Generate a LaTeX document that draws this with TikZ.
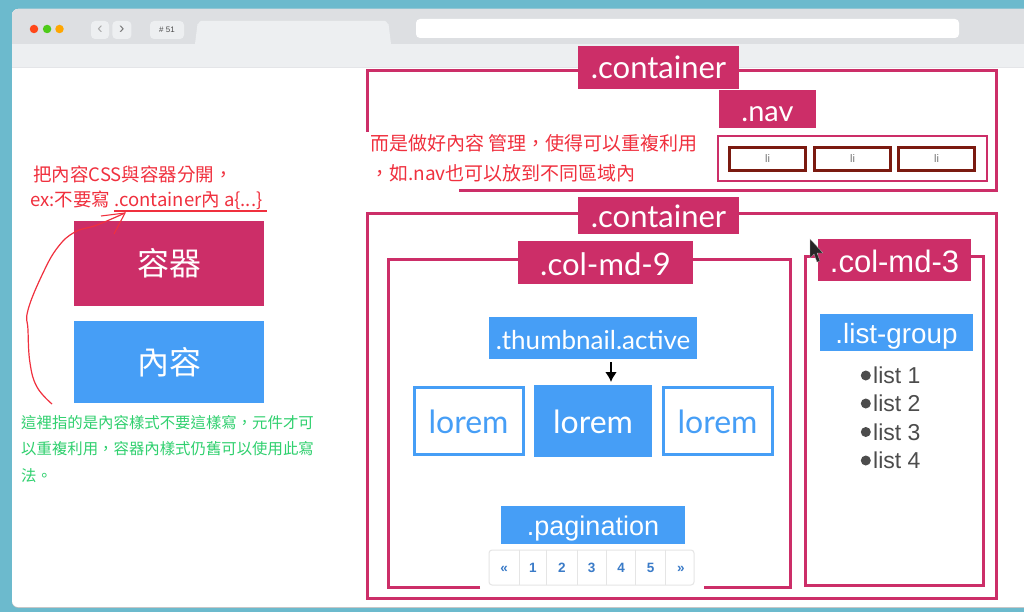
\documentclass[tikz,border=0pt]{standalone}
\usepackage{fontspec}
\setmainfont{Liberation Sans}
\newfontfamily\cjk{Noto Sans CJK TC}
\newfontfamily\gill{Lato}
\usepackage{xcolor}
\usetikzlibrary{arrows.meta,positioning}
\definecolor{Page}{HTML}{6CBACD}
\definecolor{Chrome}{HTML}{DDDFE2}
\definecolor{Toolbar}{HTML}{EDEFF1}
\definecolor{Holder}{HTML}{CC2E68}
\definecolor{Content}{HTML}{469EF6}
\definecolor{Item}{HTML}{7B1A10}
\definecolor{Note}{HTML}{F0303E}
\definecolor{Remark}{HTML}{2FD06E}
\definecolor{Pager}{HTML}{3A7BC8}
\newcommand{\widecomma}{\symbol{"FF0C}}
\tikzset{
  holdertag/.style={fill=Holder,text=white,inner sep=0pt,text depth=0pt,font=\gill\fontsize{31}{31}\selectfont},
  contenttag/.style={fill=Content,text=white,inner sep=0pt,text depth=0pt,font=\fontsize{27}{27}\selectfont},
  holderline/.style={draw=Holder,line width=3pt},
  lorembox/.style={draw=Content,line width=3pt,fill=white,text=Content,inner sep=0pt,text height=25pt,text depth=0pt,minimum width=109pt,minimum height=67pt,font=\gill\fontsize{32}{32}\selectfont},
  libox/.style={draw=Item,line width=3pt,fill=white,text=black!55,inner sep=0pt,minimum width=76pt,minimum height=23pt,font=\fontsize{11}{11}\selectfont},
  notetext/.style={text=Note,inner sep=0pt,anchor=west,font=\cjk\fontsize{18.5}{18.5}\selectfont},
  remarktext/.style={text=Remark,inner sep=0pt,anchor=west,font=\cjk\fontsize{15.4}{15.4}\selectfont},
  listtext/.style={text=black!70,inner sep=0pt,anchor=west,font=\fontsize{23}{23}\selectfont},
  listdot/.style={circle,fill=black!70,inner sep=0pt,minimum size=10pt},
  pagercell/.style={text=Pager,inner sep=0pt,text height=10pt,text depth=0pt,minimum height=35pt,font=\bfseries\fontsize{13.5}{13.5}\selectfont},
  barbutton/.style={fill=Toolbar,rounded corners=4pt,inner sep=0pt,minimum height=18pt},
  dotbutton/.style={circle,inner sep=0pt,minimum size=8.5pt}
}
\begin{document}
\begin{tikzpicture}[x=1pt,y=-1pt,>=Latex,every node/.style={align=center}]
  \useasboundingbox (0,0) rectangle (1024,612);
  \fill[Page] (0,0) rectangle (1024,612);
  % browser window
  \fill[black!25,rounded corners=6pt] (12,9) rectangle (1040,607.8);
  \fill[white,rounded corners=6pt] (12,9) rectangle (1040,607);
  \fill[Chrome,rounded corners=6pt] (12,44) -- (12,9) -- (1040,9) -- (1040,44) -- cycle;
  \fill[Chrome] (12,30) rectangle (1024,44);
  \fill[Toolbar] (12,44) rectangle (1024,67);
  \draw[Chrome!80,line width=0.6pt] (12,67.5) -- (1024,67.5);
  \fill[Toolbar] (195,44) -- (197.5,24) to[out=-80,in=180] (201,21) -- (385,21) to[out=0,in=-100] (388.5,24) -- (391,44) -- cycle;
  \node[dotbutton,fill=red!60!orange!90!white] (dotred) at (34,29) {};
  \node[dotbutton,fill=green!55!olive!90!white,right=4.2pt of dotred] (dotgreen) {};
  \node[dotbutton,fill=orange!70!yellow,right=3.5pt of dotgreen] (dotyellow) {};
  \node[barbutton,minimum width=18pt,text=black!35] (backbtn) at (100,30) {\fontsize{16}{16}\selectfont ‹};
  \node[barbutton,minimum width=19pt,text=black!55,right=3pt of backbtn] (nextbtn) {\fontsize{16}{16}\selectfont ›};
  \node[barbutton,minimum width=34pt,text=black!70] (tabbtn) at (167,30) {\fontsize{8}{8}\selectfont\# 51};
  \node[fill=white,rounded corners=4pt,minimum width=543pt,minimum height=19pt,inner sep=0pt] (addrbar) at (687.5,28.5) {};

  % left column
  \node[fill=Holder,text=white,inner sep=0pt,minimum width=190pt,minimum height=85pt,font=\cjk\fontsize{32}{32}\selectfont] (holder) at (169,263.5) {容器};
  \node[fill=Content,text=white,inner sep=0pt,minimum width=190pt,minimum height=82pt,font=\cjk\fontsize{32}{32}\selectfont] (content) at (169,362) {內容};
  \node[notetext] (split) at (33,174) {把內容CSS與容器分開\widecomma};
  \node[notetext] (example) at (30,200) {ex:不要寫 .container內 a\{...\}};
  \coordinate (underA) at (114,211);
  \coordinate (underB) at (267,211);
  \draw[Note,line width=1.4pt] (underA) -- (underB);
  \coordinate (curvetip) at (125,213);
  \coordinate (curvefoot) at (52,404);
  \draw[Note,line width=1.2pt] plot[smooth,tension=0.7] coordinates {(curvefoot) (37,387) (30,363) (28,330) (28,310) (43,273) (58,247) (75,232) (97,225) (curvetip)};
  \coordinate (headA) at (101,216);
  \coordinate (headB) at (114,234);
  \draw[Note,line width=1.1pt] (headA) -- (curvetip) -- (headB);
  \node[remarktext] (remarkA) at (21,423) {這裡指的是內容樣式不要這樣寫\widecomma 元件才可};
  \node[remarktext] (remarkB) at (21,449) {以重複利用\widecomma 容器內樣式仍舊可以使用此寫};
  \node[remarktext] (remarkC) at (21,476) {法。};

  % upper container
  \draw[holderline] (367,132) -- (367,71) -- (996,71) -- (996,191) -- (459,191);
  \node[holdertag,text height=23pt,minimum width=161pt,minimum height=43pt] (topc) at (658.5,67.5) {.container};
  \node[holdertag,text height=26pt,minimum width=97pt,minimum height=38pt,font=\gill\fontsize{29}{29}\selectfont] (nav) at (767.5,109) {.nav};
  \node[draw=Holder,line width=2.5pt,minimum width=269pt,minimum height=45pt,inner sep=0pt] (navbox) at (852.5,158.5) {};
  \node[libox] (li1) at (767.5,159) {li};
  \node[libox,right=6pt of li1] (li2) {li};
  \node[libox,right=5pt of li2] (li3) {li};
  \node[notetext,font=\cjk\fontsize{19}{19}\selectfont] (manage) at (370,143) {而是做好內容 管理\widecomma 使得可以重複利用};
  \node[notetext,font=\cjk\fontsize{19}{19}\selectfont] (reuse) at (370,173) {\widecomma 如.nav也可以放到不同區域內};

  % lower container
  \draw[holderline] (367,214) rectangle (996,598);
  \node[holdertag,text height=24pt,minimum width=161pt,minimum height=37pt] (lowc) at (658.5,215.5) {.container};
  \draw[holderline] (480,587) -- (388,587) -- (388,259) -- (790,259) -- (790,587) -- (704,587);
  \node[holdertag,text height=25pt,minimum width=175pt,minimum height=43pt] (colnine) at (605.5,262.5) {.col-md-9};
  \draw[holderline] (805,256) rectangle (983,585);
  \node[contenttag,fill=Holder,text height=24pt,minimum width=153pt,minimum height=42pt,font=\fontsize{31}{31}\selectfont] (colthree) at (894.5,260) {.col-md-3};

  \node[contenttag,text height=22pt,minimum width=208pt,minimum height=42pt,font=\gill\fontsize{26}{26}\selectfont] (thumb) at (593,338) {.thumbnail.active};
  \node[lorembox] (loremA) at (468.5,420.5) {lorem};
  \node[fill=Content,text=white,inner sep=0pt,text height=25pt,text depth=0pt,minimum width=118pt,minimum height=72pt,font=\gill\fontsize{32}{32}\selectfont] (loremB) at (593,421) {lorem};
  \node[lorembox] (loremC) at (717.5,420.5) {lorem};
  \coordinate (arrowtop) at (611,362);
  \coordinate (arrowend) at (611,382);
  \draw[-{Latex[length=10pt,width=12pt]},line width=2.4pt] (arrowtop) -- (arrowend);

  \node[contenttag,text height=20pt,minimum width=184pt,minimum height=38pt] (pager) at (593,525) {.pagination};
  \node[draw=black!10,line width=1pt,rounded corners=3pt,fill=white,minimum width=205pt,minimum height=35pt,inner sep=0pt] (pagerbox) at (591.5,567.5) {};
  \node[pagercell,minimum width=30pt] (pgA) at (504,567.5) {«};
  \node[pagercell,minimum width=27pt,right=0pt of pgA] (pgB) {1};
  \node[pagercell,minimum width=30pt,right=0pt of pgB] (pgC) {2};
  \node[pagercell,minimum width=29pt,right=0pt of pgC] (pgD) {3};
  \node[pagercell,minimum width=29pt,right=0pt of pgD] (pgE) {4};
  \node[pagercell,minimum width=29pt,right=0pt of pgE] (pgF) {5};
  \node[pagercell,minimum width=31pt,right=0pt of pgF] (pgG) {»};
  \foreach \cell in {pgA,pgB,pgC,pgD,pgE,pgF}
    \draw[black!10,line width=0.8pt] (\cell.north east) -- (\cell.south east);

  \node[contenttag,text height=21pt,minimum width=153pt,minimum height=37pt,font=\fontsize{27.8}{27.8}\selectfont] (listhead) at (896.5,332.5) {.list-group};
  \node[listtext] (listA) at (873,375.5) {list 1};
  \node[listtext] (listB) at (873,403.5) {list 2};
  \node[listtext] (listC) at (873,432) {list 3};
  \node[listtext] (listD) at (873,460.5) {list 4};
  \node[listdot,left=2pt of listA] (dotA) {};
  \node[listdot,left=2pt of listB] (dotB) {};
  \node[listdot,left=2pt of listC] (dotC) {};
  \node[listdot,left=2pt of listD] (dotD) {};

  % mouse pointer
  \fill[black!85,draw=white!70!black,line width=0.3pt] (810,239) -- (810,258) -- (814,254) -- (817,262) -- (820,261) -- (817,253) -- (823,253) -- cycle;
\end{tikzpicture}
\end{document}
